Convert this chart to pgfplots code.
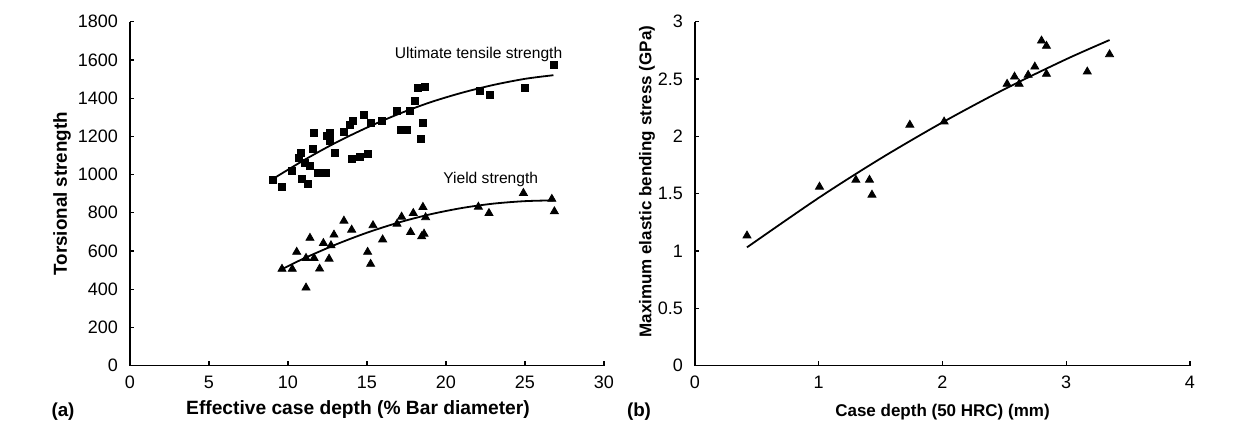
\documentclass[border=0pt]{standalone}
\usepackage{fontspec}
\setmainfont{Liberation Sans}
\usepackage{pgfplots}
\pgfplotsset{compat=1.18}
\begin{document}
\begin{tikzpicture}
\pgfplotsset{
  myax/.style={
    scale only axis,
    axis x line*=bottom, axis y line*=left,
    axis line style={black, line width=0.7pt},
    tick align=inside, major tick length=2.2pt,
    tick style={black, line width=0.6pt},
    /pgf/number format/assume math mode=true,
    /pgf/number format/set thousands separator={},
    tick label style={font=\fontsize{9}{10}\selectfont},
    xticklabel style={yshift=-1.5pt},
    yticklabel style={xshift=-2.5pt},
    clip=false,
  }
}
% ---------- (a) ----------
\begin{axis}[myax,
  at={(0pt,0pt)}, anchor=south west,
  width=237pt, height=172pt,
  xmin=0, xmax=30, ymin=0, ymax=1800,
  xtick={0,5,...,30}, ytick={0,200,...,1800},
  xlabel={\bfseries Effective case depth (\% Bar diameter)},
  ylabel={\bfseries Torsional strength},
  x label style={at={(rel axis cs:0.5,0)}, anchor=center, xshift=-4.5pt, yshift=-22pt, font=\fontsize{9.6}{11}\selectfont},
  y label style={at={(rel axis cs:0,0.5)}, anchor=center, yshift=34pt, font=\fontsize{9.4}{11}\selectfont},
]
\addplot[only marks, mark=square*, mark size=1.75pt, black] coordinates {
(9.03,972) (9.62,934) (10.23,1020) (10.8,1112) (10.7,1086) (11.08,1063)
(11.39,1047) (10.91,976) (11.29,952) (11.6,1135) (11.65,1220) (11.9,1009)
(12.4,1009) (12.47,1203) (12.68,1220) (12.66,1175) (12.95,1114) (13.54,1225)
(13.92,1262) (14.13,1281) (14.83,1312) (15.25,1269) (14.05,1082) (14.56,1094)
(15.06,1107) (15.92,1283) (16.9,1335) (17.15,1232) (17.5,1232) (17.7,1335)
(18.04,1386) (18.2,1455) (18.65,1461) (18.52,1269) (18.39,1187) (22.17,1440)
(22.78,1417) (25.0,1455) (26.8,1574)
};
\addplot[only marks, mark=triangle*, mark size=2.3pt, black] coordinates {
(9.62,506) (10.27,506) (10.55,595) (11.14,563) (11.14,408) (11.39,668)
(11.65,563) (12.0,507) (12.24,641) (12.6,559) (12.72,629) (12.91,685)
(13.54,758) (14.03,711) (15.04,595) (15.23,532) (15.38,734) (15.99,660)
(16.9,742) (17.19,779) (17.76,699) (17.93,798) (18.54,830) (18.46,676)
(18.61,690) (18.71,776) (22.05,831) (22.72,798) (24.9,903) (26.7,872)
(26.86,807)
};
\addplot[black, line width=0.9pt, smooth, no marks] coordinates {
(9,975) (11,1075) (13,1166) (15,1246) (17,1317) (19,1378) (21,1428)
(23,1469) (25,1501) (26.8,1520)
};
\addplot[black, line width=0.9pt, smooth, no marks] coordinates {
(9.6,504) (11,561) (13,633) (15,696) (17,749) (19,792) (21,825)
(23,848) (25,861) (26.8,865)
};
\node[font=\fontsize{7.8}{9}\selectfont] at (axis cs:22.06,1631) {Ultimate tensile strength};
\node[font=\fontsize{7.8}{9}\selectfont] at (axis cs:22.83,976) {Yield strength};
\node[font=\bfseries\fontsize{9.4}{11}\selectfont] at (rel axis cs:0,0) [xshift=-33.5pt, yshift=-23pt] {(a)};
\end{axis}
% ---------- (b) ----------
\begin{axis}[myax,
  at={(282.5pt,0pt)}, anchor=south west,
  width=247.5pt, height=172pt,
  xmin=0, xmax=4, ymin=0, ymax=3,
  xtick={0,1,...,4}, ytick={0,0.5,...,3},
  xlabel={\bfseries Case depth (50 HRC) (mm)},
  ylabel={\bfseries Maximum elastic bending stress (GPa)},
  x label style={at={(rel axis cs:0.5,0)}, anchor=center, yshift=-23pt, font=\fontsize{8.5}{10}\selectfont},
  y label style={at={(rel axis cs:0,0.5)}, anchor=center, yshift=24pt, xshift=6pt, font=\fontsize{8.5}{10}\selectfont},
]
\addplot[only marks, mark=triangle*, mark size=2.3pt, black] coordinates {
(0.42,1.134) (1.006,1.56) (1.30,1.62) (1.41,1.62) (1.43,1.49) (1.736,2.10)
(2.013,2.128) (2.522,2.457) (2.582,2.52) (2.619,2.457) (2.692,2.535)
(2.746,2.607) (2.80,2.834) (2.84,2.788) (2.84,2.544) (3.17,2.564) (3.35,2.715)
};
\addplot[black, line width=0.9pt, smooth, no marks] coordinates {
(0.42,1.032) (1.0,1.464) (1.5,1.807) (2.0,2.122) (2.5,2.411) (3.0,2.673) (3.35,2.840)
};
\node[font=\bfseries\fontsize{9.4}{11}\selectfont] at (rel axis cs:0,0) [xshift=-28pt, yshift=-23pt] {(b)};
\end{axis}
\pgfresetboundingbox
\path (-65pt,-35.5pt) rectangle (564.5pt,182.85pt);
\end{tikzpicture}
\end{document}
